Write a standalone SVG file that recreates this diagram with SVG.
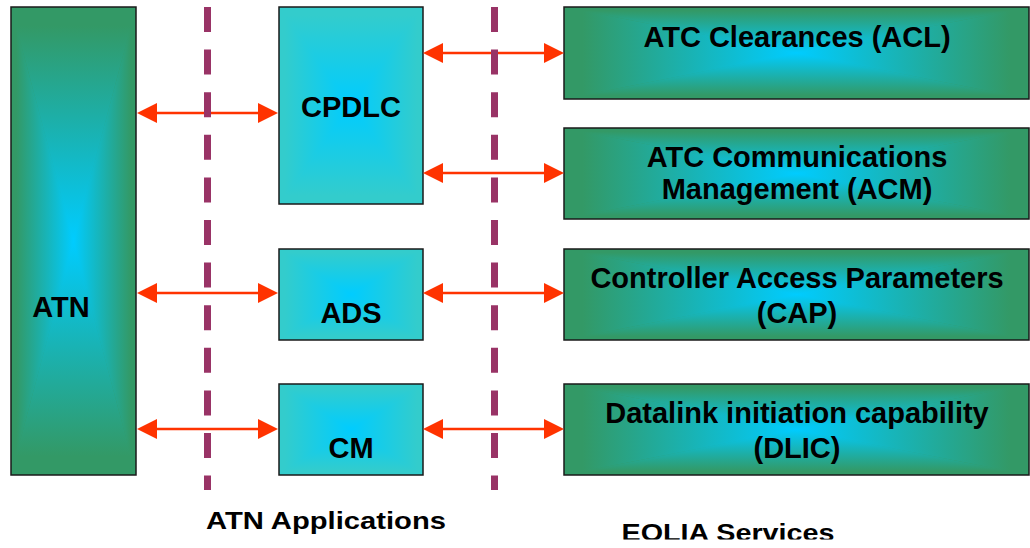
<svg xmlns="http://www.w3.org/2000/svg" width="1030" height="548" viewBox="0 0 1030 548">
<style>
.lbl{font-family:"Liberation Sans",Arial,sans-serif;font-weight:bold;font-size:29px;fill:#000;text-anchor:middle}
.cap{font-family:"Liberation Sans",Arial,sans-serif;font-weight:bold;font-size:24px;fill:#000;text-anchor:middle}
.frame{fill:none;stroke:#1a1a1a;stroke-width:1.5}
.gT{fill:url(#gT)}.gB{fill:url(#gB)}.gL{fill:url(#gL)}.gR{fill:url(#gR)}.gBase{fill:url(#gRad)}
.cT{fill:url(#cT)}.cB{fill:url(#cB)}.cL{fill:url(#cL)}.cR{fill:url(#cR)}.cBase{fill:url(#cRad)}
.arr{stroke:#ff3300;stroke-width:2.5;fill:none;marker-start:url(#head);marker-end:url(#head)}
.sep{stroke:#993366;stroke-width:7;stroke-dasharray:25 17.6;fill:none}
</style>
<defs>
<linearGradient id="gT" x1="0" y1="0" x2="0" y2="1"><stop offset="0.08" stop-color="#339966"/><stop offset="1" stop-color="#00ccff"/></linearGradient>
<linearGradient id="gB" x1="0" y1="1" x2="0" y2="0"><stop offset="0.08" stop-color="#339966"/><stop offset="1" stop-color="#00ccff"/></linearGradient>
<linearGradient id="gL" x1="0" y1="0" x2="1" y2="0"><stop offset="0.08" stop-color="#339966"/><stop offset="1" stop-color="#00ccff"/></linearGradient>
<linearGradient id="gR" x1="1" y1="0" x2="0" y2="0"><stop offset="0.08" stop-color="#339966"/><stop offset="1" stop-color="#00ccff"/></linearGradient>
<radialGradient id="gRad"><stop offset="0" stop-color="#00ccff"/><stop offset="1" stop-color="#339966"/></radialGradient>
<linearGradient id="cT" x1="0" y1="0" x2="0" y2="1"><stop offset="0.08" stop-color="#33cccc"/><stop offset="1" stop-color="#00ccff"/></linearGradient>
<linearGradient id="cB" x1="0" y1="1" x2="0" y2="0"><stop offset="0.08" stop-color="#33cccc"/><stop offset="1" stop-color="#00ccff"/></linearGradient>
<linearGradient id="cL" x1="0" y1="0" x2="1" y2="0"><stop offset="0.08" stop-color="#33cccc"/><stop offset="1" stop-color="#00ccff"/></linearGradient>
<linearGradient id="cR" x1="1" y1="0" x2="0" y2="0"><stop offset="0.08" stop-color="#33cccc"/><stop offset="1" stop-color="#00ccff"/></linearGradient>
<radialGradient id="cRad"><stop offset="0" stop-color="#00ccff"/><stop offset="1" stop-color="#33cccc"/></radialGradient>
<marker id="head" viewBox="0 0 20 20" markerWidth="20" markerHeight="20" markerUnits="userSpaceOnUse" refX="2" refY="10" orient="auto-start-reverse">
<path d="M0,0 L20,10 L0,20 Z" fill="#ff3300"/>
</marker>
<clipPath id="bottomClip"><rect x="0" y="0" width="1030" height="539.5"/></clipPath>
</defs>

<g id="atn">
<rect class="gBase" x="11" y="7" width="125" height="468"/>
<polygon class="gT" points="11,7 136,7 73.5,241"/>
<polygon class="gB" points="11,475 136,475 73.5,241"/>
<polygon class="gL" points="11,7 11,475 73.5,241"/>
<polygon class="gR" points="136,7 136,475 73.5,241"/>
<rect class="frame" x="11" y="7" width="125" height="468"/>
<text class="lbl" x="61" y="317">ATN</text>
</g>

<g id="cpdlc">
<rect class="cBase" x="279" y="7" width="144" height="197"/>
<polygon class="cT" points="279,7 423,7 351,105.5"/>
<polygon class="cB" points="279,204 423,204 351,105.5"/>
<polygon class="cL" points="279,7 279,204 351,105.5"/>
<polygon class="cR" points="423,7 423,204 351,105.5"/>
<rect class="frame" x="279" y="7" width="144" height="197"/>
<text class="lbl" x="351" y="117">CPDLC</text>
</g>

<g id="ads">
<rect class="cBase" x="279" y="249" width="144" height="91"/>
<polygon class="cT" points="279,249 423,249 351,294.5"/>
<polygon class="cB" points="279,340 423,340 351,294.5"/>
<polygon class="cL" points="279,249 279,340 351,294.5"/>
<polygon class="cR" points="423,249 423,340 351,294.5"/>
<rect class="frame" x="279" y="249" width="144" height="91"/>
<text class="lbl" x="351" y="323">ADS</text>
</g>

<g id="cm">
<rect class="cBase" x="279" y="384" width="144" height="91"/>
<polygon class="cT" points="279,384 423,384 351,429.5"/>
<polygon class="cB" points="279,475 423,475 351,429.5"/>
<polygon class="cL" points="279,384 279,475 351,429.5"/>
<polygon class="cR" points="423,384 423,475 351,429.5"/>
<rect class="frame" x="279" y="384" width="144" height="91"/>
<text class="lbl" x="351" y="458">CM</text>
</g>

<g id="acl">
<rect class="gBase" x="564" y="7" width="465" height="92"/>
<polygon class="gT" points="564,7 1029,7 796.5,53"/>
<polygon class="gB" points="564,99 1029,99 796.5,53"/>
<polygon class="gL" points="564,7 564,99 796.5,53"/>
<polygon class="gR" points="1029,7 1029,99 796.5,53"/>
<rect class="frame" x="564" y="7" width="465" height="92"/>
<text class="lbl" x="797" y="47">ATC Clearances (ACL)</text>
</g>

<g id="acm">
<rect class="gBase" x="564" y="128" width="465" height="91"/>
<polygon class="gT" points="564,128 1029,128 796.5,173.5"/>
<polygon class="gB" points="564,219 1029,219 796.5,173.5"/>
<polygon class="gL" points="564,128 564,219 796.5,173.5"/>
<polygon class="gR" points="1029,128 1029,219 796.5,173.5"/>
<rect class="frame" x="564" y="128" width="465" height="91"/>
<text class="lbl" x="797" y="167">ATC Communications</text>
<text class="lbl" x="797" y="199">Management (ACM)</text>
</g>

<g id="cap">
<rect class="gBase" x="564" y="249" width="465" height="91"/>
<polygon class="gT" points="564,249 1029,249 796.5,294.5"/>
<polygon class="gB" points="564,340 1029,340 796.5,294.5"/>
<polygon class="gL" points="564,249 564,340 796.5,294.5"/>
<polygon class="gR" points="1029,249 1029,340 796.5,294.5"/>
<rect class="frame" x="564" y="249" width="465" height="91"/>
<text class="lbl" x="797" y="288">Controller Access Parameters</text>
<text class="lbl" x="797" y="323">(CAP)</text>
</g>

<g id="dlic">
<rect class="gBase" x="564" y="384" width="465" height="91"/>
<polygon class="gT" points="564,384 1029,384 796.5,429.5"/>
<polygon class="gB" points="564,475 1029,475 796.5,429.5"/>
<polygon class="gL" points="564,384 564,475 796.5,429.5"/>
<polygon class="gR" points="1029,384 1029,475 796.5,429.5"/>
<rect class="frame" x="564" y="384" width="465" height="91"/>
<text class="lbl" x="797" y="423">Datalink initiation capability</text>
<text class="lbl" x="797" y="458">(DLIC)</text>
</g>

<g id="connectors">
<line class="arr" x1="155" y1="113" x2="260" y2="113"/>
<line class="arr" x1="441" y1="53" x2="546" y2="53"/>
<line class="arr" x1="441" y1="173" x2="546" y2="173"/>
<line class="arr" x1="155" y1="293" x2="260" y2="293"/>
<line class="arr" x1="441" y1="293" x2="546" y2="293"/>
<line class="arr" x1="155" y1="429" x2="260" y2="429"/>
<line class="arr" x1="441" y1="429" x2="546" y2="429"/>
</g>

<g id="separators">
<line class="sep" x1="207.5" y1="7" x2="207.5" y2="490"/>
<line class="sep" x1="494.5" y1="7" x2="494.5" y2="490"/>
</g>

<g id="captions">
<text class="cap" x="326" y="529" textLength="240" lengthAdjust="spacingAndGlyphs">ATN Applications</text>
<text class="cap" x="728" y="541" textLength="213" lengthAdjust="spacingAndGlyphs" clip-path="url(#bottomClip)">EOLIA Services</text>
</g>
</svg>
